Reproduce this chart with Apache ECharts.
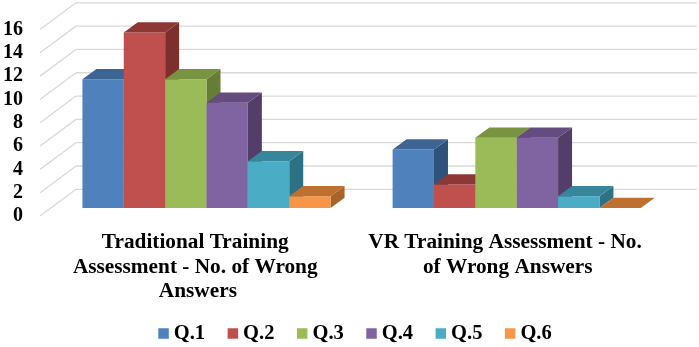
<!DOCTYPE html>
<html>
<head>
<meta charset="utf-8">
<script src="https://cdn.jsdelivr.net/npm/echarts@6/dist/echarts.min.js"></script>
<style>html,body{margin:0;padding:0;background:#fff}#c{width:699px;height:347px}</style>
</head>
<body>
<div id="c"></div>
<script>
const categories = ['Traditional Training Assessment - No. of Wrong Answers', 'VR Training Assessment - No. of Wrong Answers'];
const names = ['Q.1', 'Q.2', 'Q.3', 'Q.4', 'Q.5', 'Q.6'];
const q1 = [11, 5];
const q2 = [15, 2];
const q3 = [11, 6];
const q4 = [9, 6];
const q5 = [4, 1];
const q6 = [1, 0];
const ticks = [0, 2, 4, 6, 8, 10, 12, 14, 16];
const front = ['#4F81BD', '#C0504D', '#9BBB59', '#8064A2', '#4BACC6', '#F79646'];
const topFace = ['#3D6593', '#8E3836', '#7A9340', '#644B80', '#38869C', '#BE7030'];
const sideFace = ['#2E5279', '#7B302E', '#667D36', '#533E69', '#2D7185', '#A8632A'];

const values = [q1, q2, q3, q4, q5, q6];
const font = '"Liberation Serif","Times New Roman",serif';
const depthX = 14, depthY = 10.3;
const wallX = 36, wallY = 26.7;

function barRender(idx) {
  return function (params, api) {
    const band = api.size([1, 0])[0];
    const w = band / 7.5;
    const c = api.coord([api.value(0), api.value(1)]);
    const base = api.coord([api.value(0), 0]);
    const x0 = c[0] - 3 * w + idx * w;
    const x1 = x0 + w;
    const yT = c[1], yB = base[1];
    const kids = [];
    if (yB - yT > 0.5) {
      kids.push({ type: 'polygon', shape: { points: [[x1, yT], [x1 + depthX, yT - depthY], [x1 + depthX, yB - depthY], [x1, yB]] }, style: { fill: sideFace[idx] } });
      kids.push({ type: 'rect', shape: { x: x0, y: yT, width: w, height: yB - yT }, style: { fill: front[idx] } });
    }
    kids.push({ type: 'polygon', shape: { points: [[x0, yT], [x0 + depthX, yT - depthY], [x1 + depthX, yT - depthY], [x1, yT]] }, style: { fill: topFace[idx] } });
    return { type: 'group', children: kids };
  };
}

function wallRender(params, api) {
  const p = api.coord([0, api.value(1)]);
  const left = params.coordSys.x - 3;
  const y = p[1];
  const stroke = { stroke: '#D9D9D9', lineWidth: 1.3, fill: 'none' };
  return {
    type: 'group',
    children: [
      { type: 'line', shape: { x1: left, y1: y, x2: left + wallX, y2: y - wallY }, style: stroke },
      { type: 'line', shape: { x1: left + wallX, y1: y - wallY, x2: api.getWidth() - 2, y2: y - wallY }, style: stroke }
    ]
  };
}

const series = [{
  name: 'wall', type: 'custom', xAxisIndex: 1, yAxisIndex: 1, silent: true, z: 1,
  renderItem: wallRender,
  data: ticks.map(t => [0, t]),
  encode: { x: 0, y: 1 }
}];
names.forEach((n, i) => {
  series.push({
    name: n, type: 'custom', xAxisIndex: 0, yAxisIndex: 0, z: 2 + i,
    itemStyle: { color: front[i] },
    renderItem: barRender(i),
    data: values[i].map((v, k) => [k, v]),
    encode: { x: 0, y: 1 }
  });
});

const chart = echarts.init(document.getElementById('c'), null, { renderer: 'canvas' });
chart.setOption({
  backgroundColor: '#fff',
  animation: false,
  grid: [
    { left: 51.4, width: 620.4, top: 20.8, height: 187.2 },
    { left: 43, width: 619.6, top: 29.5, height: 186.5 }
  ],
  xAxis: [
    { type: 'category', gridIndex: 0, data: categories, show: false },
    {
      type: 'category', gridIndex: 1, data: categories,
      axisLine: { show: false }, axisTick: { show: false }, splitLine: { show: false },
      axisLabel: {
        interval: 0, margin: 14, width: 285, overflow: 'break', lineHeight: 24.7,
        fontFamily: font, fontWeight: 'bold', fontSize: 21.3, color: '#000', align: 'center'
      }
    }
  ],
  yAxis: [
    { type: 'value', gridIndex: 0, min: 0, max: 16, interval: 2, show: false },
    {
      type: 'value', gridIndex: 1, min: 0, max: 16, interval: 2,
      axisLine: { show: false }, axisTick: { show: false }, splitLine: { show: false },
      axisLabel: { margin: 20, fontFamily: font, fontWeight: 'bold', fontSize: 20, color: '#000' }
    }
  ],
  legend: {
    data: names, left: 153.3, top: 318, icon: 'rect', itemWidth: 10.5, itemHeight: 10.5, itemGap: 22.5,
    textStyle: { fontFamily: font, fontWeight: 'bold', fontSize: 20.5, color: '#000' }
  },
  series: series
});
</script>
</body>
</html>
